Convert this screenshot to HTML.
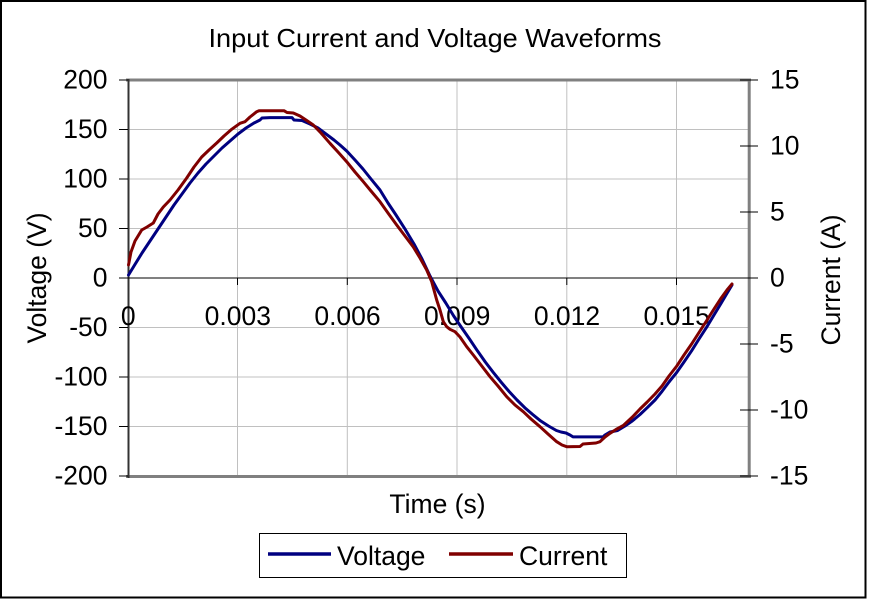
<!DOCTYPE html>
<html>
<head>
<meta charset="utf-8">
<style>
html,body{margin:0;padding:0;background:#fff;}
svg{display:block;}
text{font-family:"Liberation Sans",Arial,sans-serif;fill:#000;}
</style>
</head>
<body>
<svg width="869" height="599" viewBox="0 0 869 599" xmlns="http://www.w3.org/2000/svg">
<rect x="0" y="0" width="869" height="599" fill="#fff"/>
<rect x="1" y="1" width="864.5" height="596.5" fill="none" stroke="#000" stroke-width="2"/>

<!-- title -->
<text x="208.5" y="47" font-size="26" textLength="453" lengthAdjust="spacingAndGlyphs">Input Current and Voltage Waveforms</text>

<!-- gridlines -->
<g stroke="#c0c0c0" stroke-width="1">
<line x1="128" y1="129.5" x2="749" y2="129.5"/>
<line x1="128" y1="179" x2="749" y2="179"/>
<line x1="128" y1="228.5" x2="749" y2="228.5"/>
<line x1="128" y1="327.5" x2="749" y2="327.5"/>
<line x1="128" y1="377" x2="749" y2="377"/>
<line x1="128" y1="426.5" x2="749" y2="426.5"/>
<line x1="237.5" y1="80" x2="237.5" y2="476"/>
<line x1="347.3" y1="80" x2="347.3" y2="476"/>
<line x1="457" y1="80" x2="457" y2="476"/>
<line x1="566.8" y1="80" x2="566.8" y2="476"/>
<line x1="676.5" y1="80" x2="676.5" y2="476"/>
</g>

<!-- plot border -->
<line x1="126" y1="80" x2="751" y2="80" stroke="#808080" stroke-width="3"/>
<line x1="126" y1="476.5" x2="751" y2="476.5" stroke="#808080" stroke-width="3"/>
<line x1="749.2" y1="78.5" x2="749.2" y2="478" stroke="#808080" stroke-width="3"/>
<line x1="128.5" y1="79" x2="128.5" y2="478" stroke="#333" stroke-width="2"/>

<!-- zero line -->
<line x1="128" y1="278" x2="749" y2="278" stroke="#000" stroke-width="1"/>

<!-- ticks -->
<g stroke="#000" stroke-width="1">
<line x1="119" y1="80" x2="128" y2="80"/>
<line x1="119" y1="129.5" x2="128" y2="129.5"/>
<line x1="119" y1="179" x2="128" y2="179"/>
<line x1="119" y1="228.5" x2="128" y2="228.5"/>
<line x1="119" y1="278" x2="128" y2="278"/>
<line x1="119" y1="327.5" x2="128" y2="327.5"/>
<line x1="119" y1="377" x2="128" y2="377"/>
<line x1="119" y1="426.5" x2="128" y2="426.5"/>
<line x1="119" y1="476" x2="128" y2="476"/>
<line x1="740" y1="80" x2="758" y2="80"/>
<line x1="740" y1="146" x2="758" y2="146"/>
<line x1="740" y1="212" x2="758" y2="212"/>
<line x1="740" y1="278" x2="758" y2="278"/>
<line x1="740" y1="344" x2="758" y2="344"/>
<line x1="740" y1="410" x2="758" y2="410"/>
<line x1="740" y1="476" x2="758" y2="476"/>
<line x1="237.5" y1="278" x2="237.5" y2="285"/>
<line x1="347.3" y1="278" x2="347.3" y2="285"/>
<line x1="457" y1="278" x2="457" y2="285"/>
<line x1="566.8" y1="278" x2="566.8" y2="285"/>
<line x1="676.5" y1="278" x2="676.5" y2="285"/>
</g>

<!-- left tick labels -->
<g font-size="26.5" text-anchor="end">
<text x="107.5" y="88.5">200</text>
<text x="107.5" y="138">150</text>
<text x="107.5" y="187.5">100</text>
<text x="107.5" y="237">50</text>
<text x="107.5" y="286.5">0</text>
<text x="107.5" y="336">-50</text>
<text x="107.5" y="385.5">-100</text>
<text x="107.5" y="435">-150</text>
<text x="107.5" y="484.5">-200</text>
</g>

<!-- right tick labels -->
<g font-size="26.5" text-anchor="start">
<text x="770" y="88.5">15</text>
<text x="770" y="154.5">10</text>
<text x="770" y="220.5">5</text>
<text x="770" y="286.5">0</text>
<text x="770" y="352.5">-5</text>
<text x="770" y="418.5">-10</text>
<text x="770" y="484.5">-15</text>
</g>

<!-- x tick labels -->
<g font-size="26.5" text-anchor="middle">
<text x="128.3" y="325">0</text>
<text x="237.8" y="325">0.003</text>
<text x="347.5" y="325">0.006</text>
<text x="457.2" y="325">0.009</text>
<text x="567" y="325">0.012</text>
<text x="676.7" y="325">0.015</text>
</g>

<!-- axis titles -->
<text x="437.5" y="513" font-size="26.5" text-anchor="middle">Time (s)</text>
<text transform="translate(46,278) rotate(-90)" font-size="26.5" text-anchor="middle">Voltage (V)</text>
<text transform="translate(840,280) rotate(-90)" font-size="26.5" text-anchor="middle">Current (A)</text>

<!-- voltage -->
<polyline fill="none" stroke="#000080" stroke-width="3" stroke-linejoin="round" stroke-linecap="round"
points="128.5,275 134,266 142,253 150,241 158,229 166,217 174,205 182,194 190,183 198,173 206,164 214,156 222,148 230,141 238,134 246,128 254,123 260,120 262,118 270,117.6 292,117.6 294,120 302,120.5 310,124 318,128 326,134 334,140 340,145 346.7,151 355,160 363,169 371,179 380,190 388,203 396,215 405,229 414,244 422,259 430,276 438,291 445.8,303 453.7,316 461.6,327.6 469.5,339 477.4,350.8 485.3,362 493.2,372.3 501,382 509,391.4 517,400 524.8,407.7 532.7,414.5 540.6,420.9 548.5,426 556.4,430.5 561,432 566,433 570,435 573,436.9 603,436.9 605,435 610,432 617.6,430.5 625,426 632.4,420.9 640,414.5 647.2,407.7 655,400 662,391.4 669,382 676.8,372.3 684,362 691.6,350.8 699,339 706.4,327.6 714,315 721.2,303.1 726,295 732,285"/>

<!-- current -->
<polyline fill="none" stroke="#800000" stroke-width="3" stroke-linejoin="round" stroke-linecap="round"
points="128.5,265 131,252 135,241 141.7,230 147,227 153.3,223 158,214 163.3,207 170,200 178,190 186.7,178 194,167 201.7,157 209,150 216.7,143 224,136 231.7,129.3 240,123.3 245,121.7 250,117 256.7,111.7 259,110.7 284,110.7 287,112.5 293.3,113 300,116 306,120 313.3,125 321,133 330,143.3 338,152 346.7,161.7 355,172 363.3,181.7 371,191 380,201.7 388,213 396.7,225 405,236 413.3,247 420,258 426.7,270 431.7,281.7 436.7,300 440,310 443.3,321.7 446.7,326.7 450,329.3 455,331.7 460,337 466.7,346.7 473.3,355 481,365 490,376.7 498,386 506.7,396.7 515,405 523.3,411.7 531,419 540,426.7 548,434 556.7,441.7 562,445 566.7,446.7 580,446.5 583,444 596,443 600,441.7 605,437 610,433.3 616,429.5 623.3,425.5 632.4,417 640,409 647.2,402 655,394 662,386 669,376 676.8,366 684,355 691.6,344 699,332.5 706.4,321 714,309 721.2,298 727,290 732,284"/>

<!-- legend -->
<rect x="259.5" y="533.5" width="367" height="44" fill="#fff" stroke="#000" stroke-width="1"/>
<line x1="268" y1="554" x2="331" y2="554" stroke="#000080" stroke-width="3.5"/>
<text x="337" y="565" font-size="26.5">Voltage</text>
<line x1="449" y1="554" x2="513" y2="554" stroke="#800000" stroke-width="3.5"/>
<text x="519" y="565" font-size="26.5">Current</text>
</svg>
</body>
</html>
